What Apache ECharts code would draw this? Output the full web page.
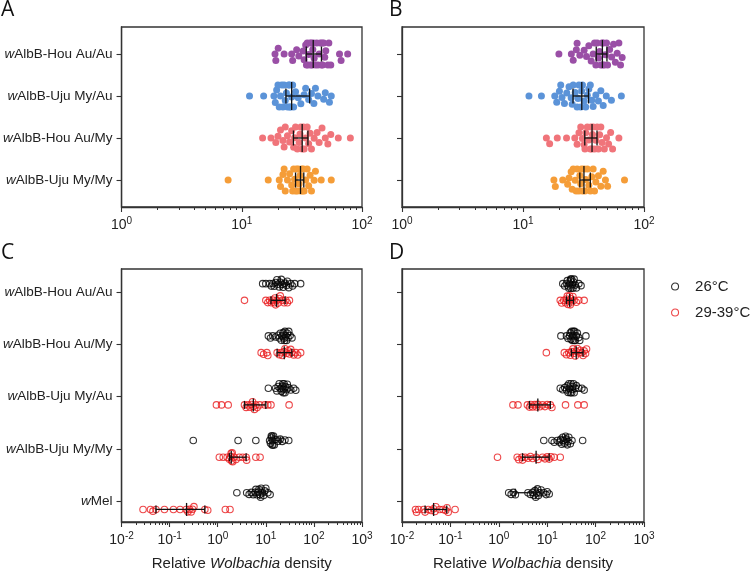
<!DOCTYPE html>
<html><head><meta charset="utf-8">
<script src="https://cdn.jsdelivr.net/npm/echarts@6/dist/echarts.min.js"></script>
<style>html,body{margin:0;padding:0;background:#fff}#c{width:750px;height:573px}</style>
</head><body><div id="c"></div>
<script>
// ---------- categories / labels ----------
const catsAB = ['wAlbB-Hou Au/Au', 'wAlbB-Uju My/Au', 'wAlbB-Hou Au/My', 'wAlbB-Uju My/My'];
const catsCD = ['wAlbB-Hou Au/Au', 'wAlbB-Hou Au/My', 'wAlbB-Uju My/Au', 'wAlbB-Uju My/My', 'wMel'];
const tempNames = ['26°C', '29-39°C'];
const panelLetters = ['A', 'B', 'C', 'D'];
const colorsAB = ['#9a4fa6', '#5b93d8', '#f0747a', '#f59d38'];

// ---------- Panel A (rows top->bottom as catsAB) ----------
const A_HouAuAu = [18.9, 19.2, 20.1, 22.5, 26, 26.5, 28.6, 29.8, 32.4, 33, 34, 34.5, 35, 35.5, 36, 37, 37.5, 38, 38.5, 39, 39.5, 40, 41, 42, 43, 44, 45, 46, 46.5, 47, 48, 49, 50, 52, 53, 55, 65, 67, 76];
const A_UjuMyAu = [11.6, 15.2, 18.5, 19, 19.5, 20, 20.5, 21, 21.5, 22, 22.5, 23, 23.5, 24, 24.5, 25, 25, 25.5, 26, 26.5, 27, 28, 29.5, 31, 33, 34, 36, 38, 39.8, 41, 43, 48, 49.5, 53.6, 55.5];
const A_HouAuMy = [14.9, 17.5, 19.2, 20, 21, 22, 22.5, 23, 24, 25, 26, 27, 27.5, 28, 29, 30, 30.5, 31, 31.8, 32.5, 33, 34, 35, 36, 37, 38, 40, 42.3, 44, 46.5, 49.5, 52, 55, 63.5, 80];
const A_UjuMyMy = [7.7, 16.6, 20.5, 21, 22, 22.5, 23, 24, 25, 26, 26.5, 27, 27.5, 28, 28.5, 29, 29.5, 30, 30.5, 31, 31.5, 32, 32.5, 33, 34, 35, 36, 37, 38, 40, 41, 45.8, 55.5];
// error bars [low, median, high]
const A_err = [[34.4, 39.3, 46], [23.3, 26, 36.7], [26.9, 31.8, 35.5], [28, 30.8, 32.8]];

// ---------- Panel B ----------
const B_HouAuAu = [19.8, 25.1, 26, 27.6, 28, 29.5, 32, 33.5, 35, 36.6, 38, 39, 40, 41, 42, 43, 44, 45, 45.5, 46, 47, 48, 49, 50, 52, 54, 56, 58, 60, 62, 64, 66];
const B_UjuMyAu = [11.2, 14.2, 18.3, 19, 20, 20.5, 21, 22, 23, 24, 25, 25.5, 26, 27, 28, 28.5, 29, 30, 30.5, 31, 32, 33, 34, 35, 36, 37, 38, 40, 42, 44, 46, 48.8, 53.8, 65];
const B_HouAuMy = [15.6, 16.6, 19.2, 22.9, 26.8, 28, 29, 30, 31, 32, 32.5, 33, 34, 35, 36, 36.5, 37, 37.5, 38, 39, 40, 41, 42, 43, 44, 45, 47, 49, 51, 53, 55, 62];
const B_UjuMyMy = [18, 18.5, 21.3, 23.4, 24, 25, 25.5, 26, 27, 27.5, 28, 29, 29.5, 30, 30.5, 31, 32, 32.5, 33, 34, 35, 36, 37, 38, 39, 40, 42, 44, 46, 48, 50, 69];
const B_err = [[40.3, 45.3, 49.4], [25.9, 30.6, 34.8], [32.4, 37.2, 40.9], [29.5, 31.9, 36]];

// ---------- Panel C (rows as catsCD), 26°C and 29-39°C ----------
const C_HouAuAu_26 = [8.6, 10, 12, 13, 14, 15, 16, 17, 18, 19, 20, 21, 22, 23, 25, 27, 28, 30, 33, 36, 40, 53];
const C_HouAuAu_hot = [3.6, 10, 11, 12, 13, 14, 15, 15.5, 16, 17, 18, 19, 20, 22, 24, 26, 28, 31];
const C_HouAuMy_26 = [11.3, 12.5, 14, 16, 18, 19, 20, 21, 22, 23, 24, 24.5, 25, 26, 27, 28, 29, 30, 32, 35];
const C_HouAuMy_hot = [8, 9, 10.5, 11, 17.2, 19, 21, 22, 24, 25, 27, 29, 31, 33, 35, 38, 42, 46, 53];
const C_UjuMyAu_26 = [11.3, 16, 17, 18, 19, 20, 21, 22, 22.5, 23, 23.5, 24, 25, 26, 27, 28, 30, 33, 38, 42];
const C_UjuMyAu_hot = [0.94, 1.2, 1.65, 3.6, 3.9, 4.3, 4.7, 5, 5.3, 5.5, 5.8, 6.2, 6.6, 7.5, 9.5, 11, 12.8, 30.5];
const C_UjuMyMy_26 = [0.31, 2.65, 6.2, 12, 12.5, 13, 13, 13.5, 13.5, 14, 14, 14.5, 15, 16, 18, 20, 22, 25, 30];
const C_UjuMyMy_hot = [1.08, 1.3, 1.57, 1.75, 1.85, 1.9, 1.95, 2.0, 2.05, 2.2, 2.4, 2.8, 3.3, 3.9, 4, 6.2, 7.6];
const C_wMel_26 = [2.5, 4, 4.5, 5, 5.5, 6, 6.2, 6.5, 7, 7.2, 7.5, 7.8, 8, 8.5, 9, 9.5, 10, 11, 12.3];
const C_wMel_hot = [0.028, 0.040, 0.045, 0.052, 0.078, 0.12, 0.165, 0.22, 0.24, 0.26, 0.28, 0.3, 0.32, 0.54, 0.62, 1.44, 1.8];
const C_err_26 = [[15, 20, 27], [20, 24, 28], [20, 23, 26], [13, 14, 20], [6, 7.5, 9]];
const C_err_hot = [[12.8, 16.7, 25.2], [17.2, 24.2, 34.8], [3.6, 5.5, 10], [1.75, 1.91, 3.9], [0.052, 0.225, 0.54]];

// ---------- Panel D ----------
const D_HouAuAu_26 = [21, 23, 25, 26, 27, 28, 29, 30, 30.5, 31, 32, 33, 34, 35, 36, 38, 40, 45, 50];
const D_HouAuAu_hot = [18.6, 20, 22, 24, 25, 26, 27, 28, 29, 30, 31, 32, 34, 36, 40, 45, 58];
const D_HouAuMy_26 = [19.2, 25, 27, 29, 30, 31, 32, 33, 34, 35, 36, 37, 38, 40, 42, 45, 47, 63];
const D_HouAuMy_hot = [9.6, 22.6, 25, 28, 30, 32, 34, 36, 38, 40, 42, 45, 48, 52, 55, 58, 62, 65];
const D_UjuMyAu_26 = [18.6, 21, 23, 25, 26, 27, 28, 29, 30, 31, 32, 33, 34, 35, 36, 38, 40, 45, 52, 58];
const D_UjuMyAu_hot = [1.96, 2.49, 3.9, 4.3, 4.6, 5, 5.5, 6, 6.4, 7, 8, 9, 10, 11.6, 12.5, 23.9, 43, 58];
const D_UjuMyMy_26 = [8.5, 12.5, 14, 16, 18, 19, 20, 21, 22, 23, 24, 25, 26, 27, 28, 30, 32.5, 54];
const D_UjuMyMy_hot = [0.94, 2.4, 2.6, 3, 3.1, 3.5, 4, 4.5, 5, 5.9, 6.5, 8, 9, 10, 11, 12, 14, 18.6];
const D_wMel_26 = [1.6, 1.8, 2.0, 2.2, 4.0, 4.5, 5, 5.3, 5.6, 5.8, 6, 6.3, 6.6, 7, 7.5, 8.5, 9.5, 10, 11];
const D_wMel_hot = [0.019, 0.02, 0.022, 0.028, 0.03, 0.035, 0.04, 0.045, 0.048, 0.05, 0.06, 0.07, 0.08, 0.085, 0.09, 0.125];
const D_err_26 = [[27, 31, 36], [30, 34, 38], [26, 30, 35], [19, 23, 27], [2.2, 5.8, 7.5]];
const D_err_hot = [[25, 29, 35], [31.6, 39.8, 55], [4.3, 6.4, 11.6], [3.1, 5.9, 11], [0.03, 0.045, 0.084]];

// ---------- layout ----------
const FONT = "'Liberation Sans', Arial, sans-serif";
const grids = [
  {left: 119, top: 27, width: 243, height: 180},
  {left: 402, top: 27, width: 242, height: 180},
  {left: 119, top: 269, width: 243, height: 253},
  {left: 402, top: 269, width: 242, height: 253}
];
const rangeAB = [1, 100], rangeCD = [0.01, 1000];
const yRangeAB = [-0.643, 3.643], yRangeCD = [-0.44, 4.4];
const PX_DEC_AB = 121.3, PX_DEC_CD = 48.5, PX_ROW_AB = 42, PX_ROW_CD = 52.25;
const SUB = 0.16;

// beeswarm offsets in pixels (layout only)
function swarm(vals, pxDec, diam, maxHalf) {
  const idx = vals.map((v, i) => i).sort((a, b) => vals[a] - vals[b]);
  const placed = [], out = new Array(vals.length);
  for (const i of idx) {
    const x = Math.log10(vals[i]) * pxDec;
    const near = placed.filter(p => Math.abs(p.x - x) < diam);
    const cands = [0];
    near.forEach(p => { const dy = Math.sqrt(diam * diam - (p.x - x) ** 2); cands.push(p.y + dy, p.y - dy); });
    cands.sort((a, b) => Math.abs(a) - Math.abs(b));
    let y = cands[cands.length - 1];
    for (const c of cands) {
      if (near.every(p => (p.x - x) ** 2 + (p.y - c) ** 2 >= diam * diam - 1e-6)) { y = c; break; }
    }
    if (y > maxHalf) y = maxHalf; if (y < -maxHalf) y = -maxHalf;
    placed.push({x, y}); out[i] = y;
  }
  return out;
}
function rowPoints(vals, rowPos, pxDec, pxRow, diam, maxHalf) {
  const off = swarm(vals, pxDec, diam, maxHalf);
  return vals.map((v, i) => [v, rowPos + off[i] / pxRow]);
}

function supLabel(v) {
  const e = Math.round(Math.log10(v));
  return '{b|10}{s|' + e + '}';
}
const supRich = {
  b: {fontSize: 14, fontFamily: FONT, color: '#222', lineHeight: 18},
  s: {fontSize: 10, fontFamily: FONT, color: '#222', verticalAlign: 'top', lineHeight: 11}
};
function minorVals(e0, e1) {
  const out = [];
  for (let e = e0; e < e1; e++) for (let k = 2; k <= 9; k++) out.push(Math.log10(k) + e);
  return out;
}
const axisCol = '#333';

const xAxes = [], yAxes = [];
grids.forEach((g, gi) => {
  const isAB = gi < 2;
  const r = isAB ? rangeAB : rangeCD;
  xAxes.push({
    type: 'log', logBase: 10, gridIndex: gi, min: r[0], max: r[1], position: 'bottom',
    axisLine: {show: true, onZero: false, lineStyle: {color: axisCol, width: 1.3}},
    axisTick: {show: true, length: 5, lineStyle: {color: axisCol, width: 1.1}},
    splitLine: {show: false}, minorTick: {show: false},
    axisLabel: {formatter: supLabel, rich: supRich, margin: 9, showMinLabel: true, showMaxLabel: true},
    name: isAB ? '' : '{n|Relative }{i|Wolbachia}{n| density}',
    nameLocation: 'middle', nameGap: 34,
    nameTextStyle: {rich: {n: {fontSize: 15, fontFamily: FONT, color: '#222'}, i: {fontSize: 15, fontFamily: FONT, fontStyle: 'italic', color: '#222'}}}
  });
});
grids.forEach((g, gi) => {
  const isAB = gi < 2;
  const e = isAB ? [0, 2] : [-2, 3];
  xAxes.push({
    type: 'value', gridIndex: gi, min: e[0], max: e[1], position: 'bottom', offset: 0,
    axisLine: {show: false, onZero: false}, splitLine: {show: false}, axisLabel: {show: false},
    axisTick: {show: true, length: 3, customValues: minorVals(e[0], e[1]), lineStyle: {color: axisCol, width: 1}}
  });
});
grids.forEach((g, gi) => {
  const isAB = gi < 2;
  const cats = isAB ? catsAB : catsCD;
  const yr = isAB ? yRangeAB : yRangeCD;
  const pos = cats.map((c, i) => i);
  yAxes.push({
    type: 'value', gridIndex: gi, min: yr[0], max: yr[1], inverse: true, position: 'left',
    splitLine: {show: false},
    axisLine: {show: true, onZero: false, lineStyle: {color: axisCol, width: 1.3}},
    axisTick: {show: true, length: 5, customValues: pos, lineStyle: {color: axisCol, width: 1.1}},
    axisLabel: {
      show: gi === 0 || gi === 2, customValues: pos, margin: 9,
      formatter: v => { const t = cats[Math.round(v)]; return '{i|' + t[0] + '}{n|' + t.slice(1) + '}'; },
      rich: {i: {fontSize: 13.5, fontFamily: FONT, fontStyle: 'italic', color: '#222'}, n: {fontSize: 13.5, fontFamily: FONT, color: '#222'}}
    }
  });
});

function errSeries(gi, data, medH, capH) {
  return {
    type: 'custom', xAxisIndex: gi, yAxisIndex: gi, z: 10, silent: true, clip: false,
    encode: {x: [0, 1, 2], y: 3}, data,
    renderItem(params, api) {
      const y = api.value(3);
      const a = api.coord([api.value(0), y]), m = api.coord([api.value(1), y]), b = api.coord([api.value(2), y]);
      const st = {stroke: '#111', lineWidth: 1.3};
      return {type: 'group', children: [
        {type: 'line', shape: {x1: a[0], y1: a[1], x2: b[0], y2: b[1]}, style: st},
        {type: 'line', shape: {x1: a[0], y1: a[1] - capH, x2: a[0], y2: a[1] + capH}, style: st},
        {type: 'line', shape: {x1: b[0], y1: b[1] - capH, x2: b[0], y2: b[1] + capH}, style: st},
        {type: 'line', shape: {x1: m[0], y1: m[1] - medH, x2: m[0], y2: m[1] + medH}, style: st}
      ]};
    }
  };
}

const series = [];
// A and B
[[A_HouAuAu, A_UjuMyAu, A_HouAuMy, A_UjuMyMy, A_err], [B_HouAuAu, B_UjuMyAu, B_HouAuMy, B_UjuMyMy, B_err]].forEach((p, gi) => {
  for (let r = 0; r < 4; r++) {
    series.push({
      type: 'scatter', xAxisIndex: gi, yAxisIndex: gi, symbol: 'circle', symbolSize: 7, silent: true,
      itemStyle: {color: colorsAB[r], opacity: 1},
      data: rowPoints(p[r], r, PX_DEC_AB, PX_ROW_AB, 6.6, 11)
    });
  }
  series.push(errSeries(gi, p[4].map((e, r) => [e[0], e[1], e[2], r]), 14, 7.5));
});
// C and D
const C26 = [C_HouAuAu_26, C_HouAuMy_26, C_UjuMyAu_26, C_UjuMyMy_26, C_wMel_26];
const Chot = [C_HouAuAu_hot, C_HouAuMy_hot, C_UjuMyAu_hot, C_UjuMyMy_hot, C_wMel_hot];
const D26 = [D_HouAuAu_26, D_HouAuMy_26, D_UjuMyAu_26, D_UjuMyMy_26, D_wMel_26];
const Dhot = [D_HouAuAu_hot, D_HouAuMy_hot, D_UjuMyAu_hot, D_UjuMyMy_hot, D_wMel_hot];
const tempColors = ['#000000', '#e8191c'];
[[C26, Chot, C_err_26, C_err_hot], [D26, Dhot, D_err_26, D_err_hot]].forEach((p, k) => {
  const gi = k + 2;
  [0, 1].forEach(t => {
    let data = [];
    p[t].forEach((vals, r) => {
      data = data.concat(rowPoints(vals, r + (t === 0 ? -SUB : SUB), PX_DEC_CD, PX_ROW_CD, 3, 4.5));
    });
    series.push({
      type: 'scatter', name: tempNames[t], xAxisIndex: gi, yAxisIndex: gi, symbol: 'circle', symbolSize: 6.5, silent: true,
      itemStyle: {color: 'rgba(0,0,0,0)', borderColor: tempColors[t], borderWidth: 1.1},
      data
    });
  });
  const errs = [];
  p[2].forEach((e, r) => errs.push([e[0], e[1], e[2], r - SUB]));
  p[3].forEach((e, r) => errs.push([e[0], e[1], e[2], r + SUB]));
  series.push(errSeries(gi, errs, 6.5, 4));
});

const titles = [
  {text: panelLetters[0], left: 1, top: 0},
  {text: panelLetters[1], left: 389, top: 0},
  {text: panelLetters[2], left: 1, top: 243},
  {text: panelLetters[3], left: 389, top: 243}
].map(t => Object.assign(t, {padding: 0, textStyle: {fontSize: 21, fontWeight: 'normal', fontFamily: "'Open Sans', sans-serif", color: '#111'}}));

const option = {
  animation: false,
  backgroundColor: '#fff',
  title: titles,
  grid: grids.map(g => Object.assign({show: true, borderColor: axisCol, borderWidth: 1.3, backgroundColor: 'transparent', containLabel: false}, g)),
  xAxis: xAxes,
  yAxis: yAxes,
  legend: {
    orient: 'vertical', left: 671, top: 279, padding: 0, itemGap: 11,
    itemWidth: 30, itemHeight: 7, selectedMode: false,
    data: tempNames.map(n => ({name: n, icon: 'circle'})),
    itemStyle: {borderWidth: 1.1},
    textStyle: {fontSize: 15, fontFamily: FONT, color: '#222'}
  },
  series
};
const chart = echarts.init(document.getElementById('c'), null, {renderer: 'canvas'});
chart.setOption(option);
</script></body></html>
